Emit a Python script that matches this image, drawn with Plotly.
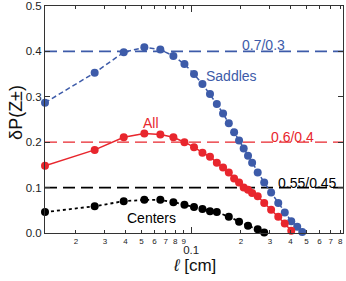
import math
import plotly.graph_objects as go

# ---- data (l in cm, delta P) ----
L_SADDLES = [0.013, 0.026, 0.039, 0.052, 0.065, 0.078, 0.091, 0.104, 0.117, 0.130,
             0.143, 0.156, 0.169, 0.182, 0.195, 0.208, 0.221, 0.234, 0.253, 0.277,
             0.305, 0.337, 0.369, 0.404, 0.439, 0.471]
DP_SADDLES = [0.287, 0.353, 0.398, 0.409, 0.404, 0.390, 0.372, 0.350, 0.328, 0.306,
              0.284, 0.263, 0.242, 0.222, 0.204, 0.186, 0.170, 0.155, 0.133, 0.111,
              0.089, 0.066, 0.045, 0.026, 0.014, 0.002]

L_ALL = [0.013, 0.026, 0.039, 0.052, 0.065, 0.078, 0.091, 0.104, 0.117, 0.130,
         0.143, 0.156, 0.169, 0.182, 0.195, 0.208, 0.221, 0.234, 0.253, 0.277,
         0.305, 0.337, 0.369, 0.404]
DP_ALL = [0.148, 0.183, 0.211, 0.219, 0.217, 0.211, 0.200, 0.189, 0.177, 0.168,
          0.155, 0.144, 0.133, 0.120, 0.111, 0.100, 0.095, 0.088, 0.081, 0.066,
          0.051, 0.036, 0.021, 0.005]

L_CENTERS = [0.013, 0.026, 0.039, 0.052, 0.065, 0.078, 0.091, 0.104, 0.117, 0.130,
             0.143, 0.169, 0.195, 0.221, 0.253, 0.277]
DP_CENTERS = [0.046, 0.059, 0.070, 0.073, 0.073, 0.068, 0.062, 0.057, 0.053, 0.048,
              0.046, 0.036, 0.025, 0.016, 0.008, 0.001]

REF_LEVELS = [0.4, 0.2, 0.1]
REF_LABELS = ["0.7/0.3", "0.6/0.4", "0.55/0.45"]
SERIES_LABELS = ["Saddles", "All", "Centers"]

X_TICKS = [0.02, 0.03, 0.04, 0.05, 0.06, 0.07, 0.08, 0.09, 0.1,
           0.2, 0.3, 0.4, 0.5, 0.6, 0.7, 0.8]
X_TICK_TEXT = ["2", "3", "4", "5", "6", "7", "8", "9",
               "<br><span style='font-size:11.5px'>0.1</span>",
               "2", "3", "4", "5", "6", "7", "8"]

BLUE = "#3d5ba9"
RED = "#e8262d"
BLACK = "#000000"
FONT = "Liberation Sans, Arial, Helvetica, sans-serif"

fig = go.Figure()

fig.add_trace(go.Scatter(x=L_SADDLES, y=DP_SADDLES, mode="lines+markers",
                         line=dict(color=BLUE, width=1.5, dash="5px,3px"),
                         marker=dict(color=BLUE, size=8), cliponaxis=False))
fig.add_trace(go.Scatter(x=L_ALL, y=DP_ALL, mode="lines+markers",
                         line=dict(color=RED, width=1.5),
                         marker=dict(color=RED, size=8), cliponaxis=False))
fig.add_trace(go.Scatter(x=L_CENTERS, y=DP_CENTERS, mode="lines+markers",
                         line=dict(color=BLACK, width=1.8, dash="3px,3px"),
                         marker=dict(color=BLACK, size=8), cliponaxis=False))

for lvl, col, w in zip(REF_LEVELS, [BLUE, RED, BLACK], [1.6, 1.3, 1.6]):
    fig.add_shape(type="line", xref="paper", x0=0, x1=1, yref="y", y0=lvl, y1=lvl,
                  line=dict(color=col, width=w, dash="12px,6px"), layer="below")

ann = [
    (REF_LABELS[0], 0.732, 0.830, BLUE),
    (SERIES_LABELS[0], 0.626, 0.692, BLUE),
    (SERIES_LABELS[1], 0.356, 0.485, RED),
    (REF_LABELS[1], 0.829, 0.423, RED),
    (REF_LABELS[2], 0.881, 0.220, BLACK),
    (SERIES_LABELS[2], 0.357, 0.068, BLACK),
]
for txt, x, y, col in ann:
    fig.add_annotation(text=txt, xref="paper", yref="paper", x=x, y=y,
                       showarrow=False, font=dict(family=FONT, size=14, color=col),
                       xanchor="center", yanchor="middle", bgcolor="rgba(0,0,0,0)")

fig.add_annotation(text="δP(Z±)", xref="paper", yref="paper", x=-0.10, y=0.53,
                   textangle=-90, showarrow=False,
                   font=dict(family=FONT, size=18, color="#111"),
                   xanchor="center", yanchor="middle")
fig.add_annotation(text="<i>ℓ</i> [cm]", xref="paper", yref="paper", x=0.5, y=-0.141,
                   showarrow=False, font=dict(family=FONT, size=17, color="#111"),
                   xanchor="center", yanchor="middle")

fig.update_layout(
    width=346, height=281,
    margin=dict(l=45, r=3, t=6, b=48, autoexpand=False),
    paper_bgcolor="white", plot_bgcolor="white",
    showlegend=False,
    font=dict(family=FONT, color="#222"),
    xaxis=dict(type="log", range=[math.log10(0.013), -0.080],
               tickmode="array", tickvals=X_TICKS, ticktext=X_TICK_TEXT,
               tickangle=0, automargin=False,
               ticks="inside", ticklen=3, tickcolor="#333",
               tickfont=dict(size=8, family=FONT, color="#222"),
               showline=True, linecolor="#333", linewidth=1, mirror="ticks",
               showgrid=False, zeroline=False,
               minor=dict(tickmode="array", tickvals=[0.1], ticks="inside",
                          ticklen=6, tickcolor="#333")),
    yaxis=dict(range=[0, 0.5], tickmode="linear", tick0=0, dtick=0.1,
               tickformat=".1f", ticks="inside", ticklen=5, tickcolor="#333",
               automargin=False,
               tickfont=dict(size=11.5, family=FONT, color="#222"),
               showline=True, linecolor="#333", linewidth=1, mirror="ticks",
               showgrid=False, zeroline=False),
)

fig.write_html(
    "out.html",
    config={"displayModeBar": False},
    post_script=("document.body.style.margin='0px';"
                 "document.body.style.padding='0px';"
                 "document.documentElement.style.overflow='hidden';"),
)
